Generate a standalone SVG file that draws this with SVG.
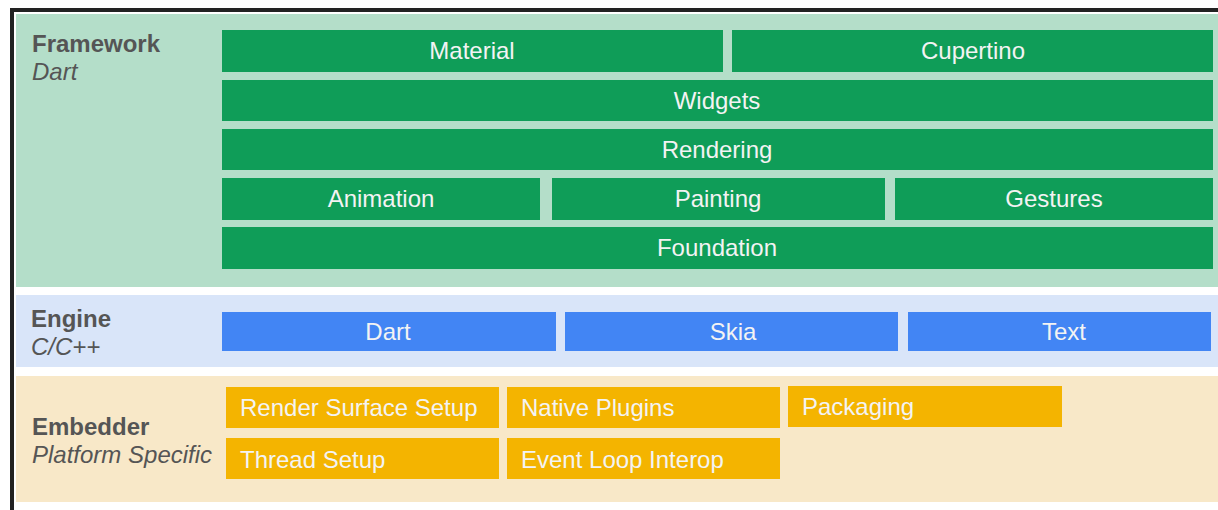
<svg xmlns="http://www.w3.org/2000/svg" width="1218" height="510" viewBox="0 0 1218 510">
  <style>
    .lbl { font-family: "Liberation Sans", Arial, sans-serif; font-size: 24px; fill: #555555; }
    .b { font-weight: bold; }
    .i { font-style: italic; }
    .bt { font-family: "Liberation Sans", Arial, sans-serif; font-size: 24px; fill: #f3f3f3; }
    .c { text-anchor: middle; }
    .g { fill: #0f9d58; }
    .bl { fill: #4285f4; }
    .y { fill: #f4b400; }
  </style>
  <rect x="0" y="0" width="1218" height="510" fill="#ffffff"/>
  <!-- frame -->
  <rect x="10" y="8" width="1208" height="4" fill="#222222"/>
  <rect x="10" y="8" width="4" height="502" fill="#222222"/>
  <rect x="14" y="12" width="1204" height="498" fill="#ffffff"/>

  <!-- bands -->
  <g id="framework-band">
    <rect x="16" y="14" width="1202" height="273" fill="#b4dec9"/>
    <text class="lbl b" x="32" y="52">Framework</text>
    <text class="lbl i" x="32" y="80">Dart</text>
  </g>
  <g id="engine-band">
    <rect x="16" y="295" width="1202" height="72" fill="#d9e5f9"/>
    <text class="lbl b" x="31" y="327">Engine</text>
    <text class="lbl i" x="31" y="355">C/C++</text>
  </g>
  <g id="embedder-band">
    <rect x="16" y="376" width="1202" height="126" fill="#f8e8c8"/>
    <text class="lbl b" x="32" y="435">Embedder</text>
    <text class="lbl i" x="32" y="463">Platform Specific</text>
  </g>

  <!-- framework nodes -->
  <g id="material"><rect class="g" x="222" y="30" width="501" height="42"/><text class="bt c" x="472" y="59">Material</text></g>
  <g id="cupertino"><rect class="g" x="732" y="30" width="481" height="42"/><text class="bt c" x="973" y="59">Cupertino</text></g>
  <g id="widgets"><rect class="g" x="222" y="80" width="991" height="41"/><text class="bt c" x="717" y="109">Widgets</text></g>
  <g id="rendering"><rect class="g" x="222" y="129" width="991" height="41"/><text class="bt c" x="717" y="158">Rendering</text></g>
  <g id="animation"><rect class="g" x="222" y="178" width="318" height="42"/><text class="bt c" x="381" y="207">Animation</text></g>
  <g id="painting"><rect class="g" x="552" y="178" width="333" height="42"/><text class="bt c" x="718" y="207">Painting</text></g>
  <g id="gestures"><rect class="g" x="895" y="178" width="318" height="42"/><text class="bt c" x="1054" y="207">Gestures</text></g>
  <g id="foundation"><rect class="g" x="222" y="227" width="991" height="42"/><text class="bt c" x="717" y="256">Foundation</text></g>

  <!-- engine nodes -->
  <g id="dart"><rect class="bl" x="222" y="312" width="334" height="39"/><text class="bt c" x="388" y="340">Dart</text></g>
  <g id="skia"><rect class="bl" x="565" y="312" width="333" height="39"/><text class="bt c" x="733" y="340">Skia</text></g>
  <g id="text"><rect class="bl" x="908" y="312" width="303" height="39"/><text class="bt c" x="1064" y="340">Text</text></g>

  <!-- embedder nodes -->
  <g id="render-surface-setup"><rect class="y" x="226" y="387" width="273" height="41"/><text class="bt" x="240" y="416">Render Surface Setup</text></g>
  <g id="native-plugins"><rect class="y" x="507" y="387" width="273" height="41"/><text class="bt" x="521" y="416">Native Plugins</text></g>
  <g id="packaging"><rect class="y" x="788" y="386" width="274" height="41"/><text class="bt" x="802" y="415">Packaging</text></g>
  <g id="thread-setup"><rect class="y" x="226" y="438" width="273" height="41"/><text class="bt" x="240" y="468">Thread Setup</text></g>
  <g id="event-loop-interop"><rect class="y" x="507" y="438" width="273" height="41"/><text class="bt" x="521" y="468">Event Loop Interop</text></g>

  <g id="connectors"/>
</svg>
